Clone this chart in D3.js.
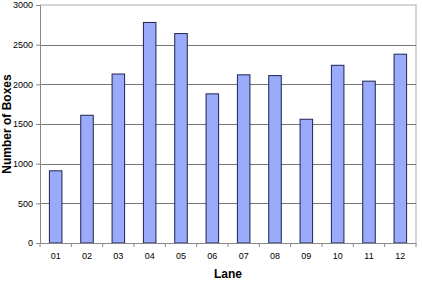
<!DOCTYPE html>
<html>
<head>
<meta charset="utf-8">
<script src="https://cdn.jsdelivr.net/npm/d3@7"></script>
<style>
  body { margin: 0; background: #fff; }
  text { font-family: Arial, "Liberation Sans", sans-serif; }
</style>
</head>
<body>
<svg id="chart" width="422" height="284"></svg>
<script>
const lanes = ['01','02','03','04','05','06','07','08','09','10','11','12'];
const boxes = [910, 1610, 2130, 2780, 2640, 1880, 2120, 2110, 1560, 2240, 2040, 2380];
const yTicks = [0, 500, 1000, 1500, 2000, 2500, 3000];

const svg = d3.select('#chart');
const margin = {left: 40, right: 6, top: 5, bottom: 41};
const width = 422, height = 284;

const x = d3.scaleBand()
    .domain(lanes)
    .range([margin.left, width - margin.right])
    .paddingInner(0.6)
    .paddingOuter(0.3);

const y = d3.scaleLinear()
    .domain([0, 3000])
    .range([height - margin.bottom, margin.top]);

// plot frame (light grey right/top)
svg.append('path')
    .attr('d', `M${margin.left},${margin.top}H${width - margin.right}V${y(0)}`)
    .attr('fill', 'none')
    .attr('stroke', '#c8c8c8')
    .attr('stroke-width', 1.5);

// gridlines
svg.append('g')
    .selectAll('line')
    .data(yTicks.filter(d => d > 0 && d < 3000))
    .enter()
    .append('line')
    .attr('x1', margin.left)
    .attr('x2', width - margin.right)
    .attr('y1', d => Math.round(y(d)) + 0.5)
    .attr('y2', d => Math.round(y(d)) + 0.5)
    .attr('stroke', '#777')
    .attr('stroke-width', 1);

// bars
svg.append('g')
    .selectAll('rect')
    .data(boxes)
    .enter()
    .append('rect')
    .attr('x', (d, i) => x(lanes[i]))
    .attr('y', d => y(d))
    .attr('width', x.bandwidth())
    .attr('height', d => y(0) - y(d))
    .attr('fill', '#9aabfb')
    .attr('stroke', '#1e2350')
    .attr('stroke-width', 1);

// y axis
const yAxis = svg.append('g')
    .attr('transform', `translate(${margin.left},0)`)
    .call(d3.axisLeft(y).tickValues(yTicks).tickSize(4).tickPadding(3).tickFormat(d3.format('d')));
yAxis.select('.domain').attr('stroke', '#888');
yAxis.selectAll('.tick line').attr('stroke', '#888');
yAxis.selectAll('text').attr('font-size', 9).attr('fill', '#000');

// x axis
const step = x.step();
const xAxis = svg.append('g')
    .attr('transform', `translate(0,${y(0)})`)
    .call(d3.axisBottom(x).tickSize(0).tickPadding(10));
xAxis.select('.domain').attr('stroke', '#888');
xAxis.selectAll('text').attr('font-size', 9).attr('fill', '#000');
xAxis.selectAll('.sep')
    .data(d3.range(lanes.length + 1))
    .enter()
    .append('line')
    .attr('class', 'sep')
    .attr('x1', i => margin.left + i * step)
    .attr('x2', i => margin.left + i * step)
    .attr('y1', 0)
    .attr('y2', 4)
    .attr('stroke', '#888');

// titles
svg.append('text')
    .attr('x', (margin.left + width - margin.right) / 2)
    .attr('y', 278)
    .attr('text-anchor', 'middle')
    .attr('font-size', 12)
    .attr('font-weight', 'bold')
    .text('Lane');

svg.append('text')
    .attr('transform', `translate(11,${(margin.top + y(0)) / 2}) rotate(-90)`)
    .attr('text-anchor', 'middle')
    .attr('font-size', 12)
    .attr('font-weight', 'bold')
    .text('Number of Boxes');
</script>
</body>
</html>
